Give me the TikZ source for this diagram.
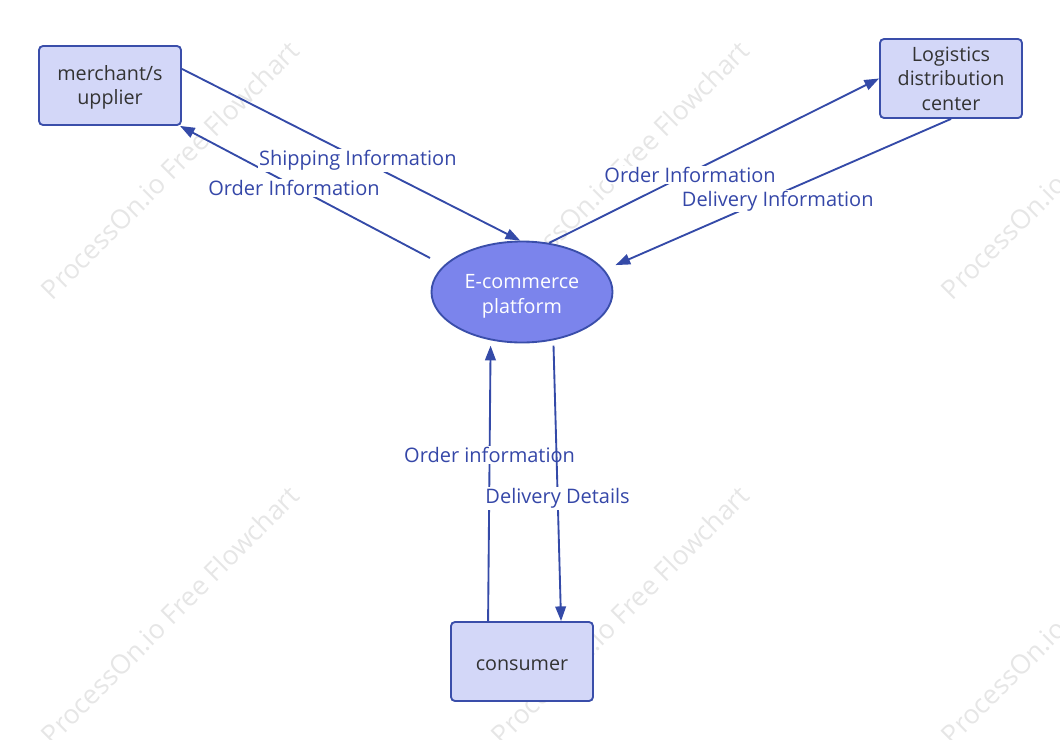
\documentclass[tikz,border=0pt]{standalone}
\usepackage{fontspec}
\setmainfont{Open Sans}
\usetikzlibrary{arrows.meta,shapes.geometric}
\definecolor{edgec}{HTML}{344AA8}
\definecolor{labc}{HTML}{3547A8}
\definecolor{boxfill}{HTML}{D3D7F8}
\definecolor{boxdraw}{HTML}{3A4EAA}
\definecolor{ellfill}{HTML}{7B84EC}
\definecolor{txt}{HTML}{333333}
\definecolor{wm}{HTML}{E6E6E6}
\newcommand{\upstrut}[1]{\rule{0pt}{#1}}
\begin{document}
\begin{tikzpicture}[x=0.75pt,y=-0.75pt,
  box/.style={draw=boxdraw,fill=boxfill,line width=1.4pt,rounded corners=3pt,
    minimum width=106.5pt,minimum height=59.25pt,align=center,text=txt,
    font=\fontsize{14.8pt}{18.3pt}\selectfont,inner sep=0pt},
  ell/.style={ellipse,draw=boxdraw,fill=ellfill,line width=1.4pt,
    minimum width=135.75pt,minimum height=75.75pt,align=center,text=white,
    font=\fontsize{14.8pt}{18.3pt}\selectfont,inner sep=0pt},
  conn/.style={draw=edgec,line width=1.4pt,-{Triangle[length=11pt,width=8pt]}},
  lab/.style={fill=white,text=labc,inner sep=1pt,font=\fontsize{15pt}{17pt}\selectfont},
  wmark/.style={text=wm,rotate=45,font=\fontsize{20pt}{22pt}\selectfont}]
\useasboundingbox (0,0) rectangle (1060,739);
% watermarks
\foreach \wx/\wy [count=\i] in {170/170,620/170,1070/170,170/615,620/615,1070/615}
  \node[wmark] (wm\i) at (\wx,\wy) {ProcessOn.io Free Flowchart};
% nodes
\node[box] (m) at (110,85.5) {\upstrut{14.2pt}merchant/s\\upplier};
\node[box] (l) at (951,78.5) {Logistics\\distribution\\center};
\node[box] (c) at (522,661.5) {\upstrut{13.9pt}consumer};
\node[ell] (e) at (522,292) {\upstrut{17.2pt}E-commerce\\platform};
\coordinate (es) at (430,258);
% connectors
\draw[conn] (es) -- node[lab,pos=0.544,yshift=-1.5pt] {Order Information} (m.-30.8);
\draw[conn] (m.13.7) -- node[lab,pos=0.52,yshift=-1.5pt] {Shipping Information} (e.92);
\draw[conn] (e.61.7) -- node[lab,pos=0.427,yshift=-1.5pt] {Order Information} (l.west);
\draw[conn,shorten >=9pt] (l.south) -- node[lab,pos=0.5,yshift=-5pt] {Delivery Information} (e.15);
\draw[conn,shorten >=4pt] (c.130) -- node[lab,pos=0.6,yshift=-1.5pt] {Order information} (e.237.3);
\draw[conn,shorten <=4pt] (e.303.4) -- node[lab,pos=0.55,yshift=-3pt] {Delivery Details} (c.46.8);
\end{tikzpicture}
\end{document}
